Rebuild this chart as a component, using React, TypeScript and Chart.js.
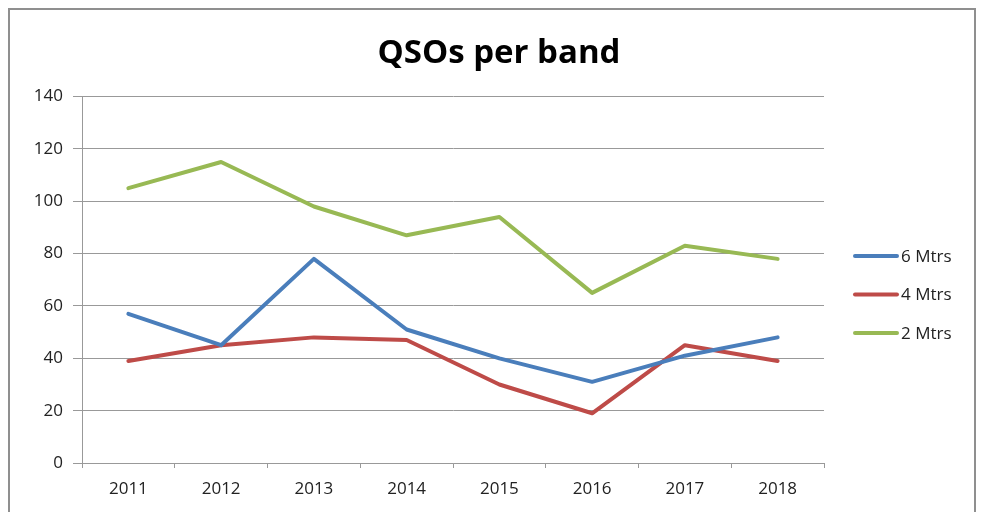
import React, { useEffect, useRef } from "react";
import { Chart, registerables } from "chart.js";

Chart.register(...registerables);

const years = ["2011", "2012", "2013", "2014", "2015", "2016", "2017", "2018"];
const sixMtrs = [57, 45, 78, 51, 40, 31, 41, 48];
const fourMtrs = [39, 45, 48, 47, 30, 19, 45, 39];
const twoMtrs = [105, 115, 98, 87, 94, 65, 83, 78];
const seriesNames = ["6 Mtrs", "4 Mtrs", "2 Mtrs"];
const seriesColors = ["#4A7EBB", "#BE4B48", "#98B954"];

const FONT = "'Open Sans', sans-serif";

const legendPlugin = {
  id: "sideLegend",
  afterDraw(chart: any) {
    const ctx = chart.ctx;
    const area = chart.chartArea;
    const x0 = area.right + 31;
    const yStart = 256;
    const gap = 38.5;
    ctx.save();
    ctx.font = `17px ${FONT}`;
    ctx.textBaseline = "middle";
    ctx.textAlign = "left";
    chart.data.datasets.forEach((ds: any, i: number) => {
      const y = yStart + i * gap;
      ctx.strokeStyle = ds.borderColor;
      ctx.lineWidth = 4;
      ctx.lineCap = "round";
      ctx.beginPath();
      ctx.moveTo(x0, y);
      ctx.lineTo(x0 + 42, y);
      ctx.stroke();
      ctx.fillStyle = "#222";
      ctx.fillText(ds.label, x0 + 46, y + 1);
    });
    ctx.restore();
  },
};

export default function App() {
  const ref = useRef<HTMLCanvasElement | null>(null);

  useEffect(() => {
    if (!ref.current) return;
    const values = [sixMtrs, fourMtrs, twoMtrs];
    const chart = new Chart(ref.current, {
      type: "line",
      data: {
        labels: years,
        datasets: values.map((v, i) => ({
          label: seriesNames[i],
          data: v,
          borderColor: seriesColors[i],
          backgroundColor: seriesColors[i],
          borderWidth: 4,
          pointRadius: 0,
          tension: 0,
          borderCapStyle: "round" as const,
          borderJoinStyle: "round" as const,
        })),
      },
      options: {
        animation: false,
        responsive: false,
        devicePixelRatio: 1,
        layout: { padding: { top: 14, right: 0, bottom: 0, left: 16 } },
        plugins: {
          legend: { display: false },
          tooltip: { enabled: false },
          title: {
            display: true,
            text: "QSOs per band",
            color: "#000",
            font: { family: FONT, size: 33, weight: "bold" },
            padding: { top: 20, bottom: 23 },
          },
        },
        scales: {
          x: {
            offset: true,
            grid: {
              offset: true,
              drawOnChartArea: false,
              drawTicks: true,
              tickLength: 5,
              color: "#999",
            },
            border: { display: true, color: "#999", width: 1 },
            ticks: {
              color: "#222",
              font: { family: FONT, size: 17 },
              padding: 11,
              maxRotation: 0,
            },
            afterFit(scale: any) {
              scale.height = 49;
            },
          },
          y: {
            min: 0,
            max: 140,
            grid: {
              color: "#999",
              drawTicks: true,
              tickLength: 9,
            },
            border: { display: true, color: "#999", width: 1 },
            ticks: {
              stepSize: 20,
              color: "#222",
              font: { family: FONT, size: 17 },
              padding: 10,
            },
            afterFit(scale: any) {
              scale.width = 66;
            },
          },
          yRight: {
            type: "linear",
            position: "right",
            display: true,
            grid: { display: false },
            border: { display: false },
            ticks: { display: false },
            afterFit(scale: any) {
              scale.width = 158;
            },
          },
        },
      },
      plugins: [legendPlugin],
    });
    return () => chart.destroy();
  }, []);

  return (
    <div style={{ position: "fixed", left: 0, top: 0, width: 982, height: 512, background: "#fff", overflow: "hidden" }}>
      <div
        style={{
          position: "absolute",
          left: 8,
          top: 8,
          width: 968,
          height: 540,
          border: "2px solid #8f8f8f",
          boxSizing: "border-box",
        }}
      />
      <canvas ref={ref} width={982} height={512} style={{ position: "absolute", left: 0, top: 0 }} />
    </div>
  );
}
